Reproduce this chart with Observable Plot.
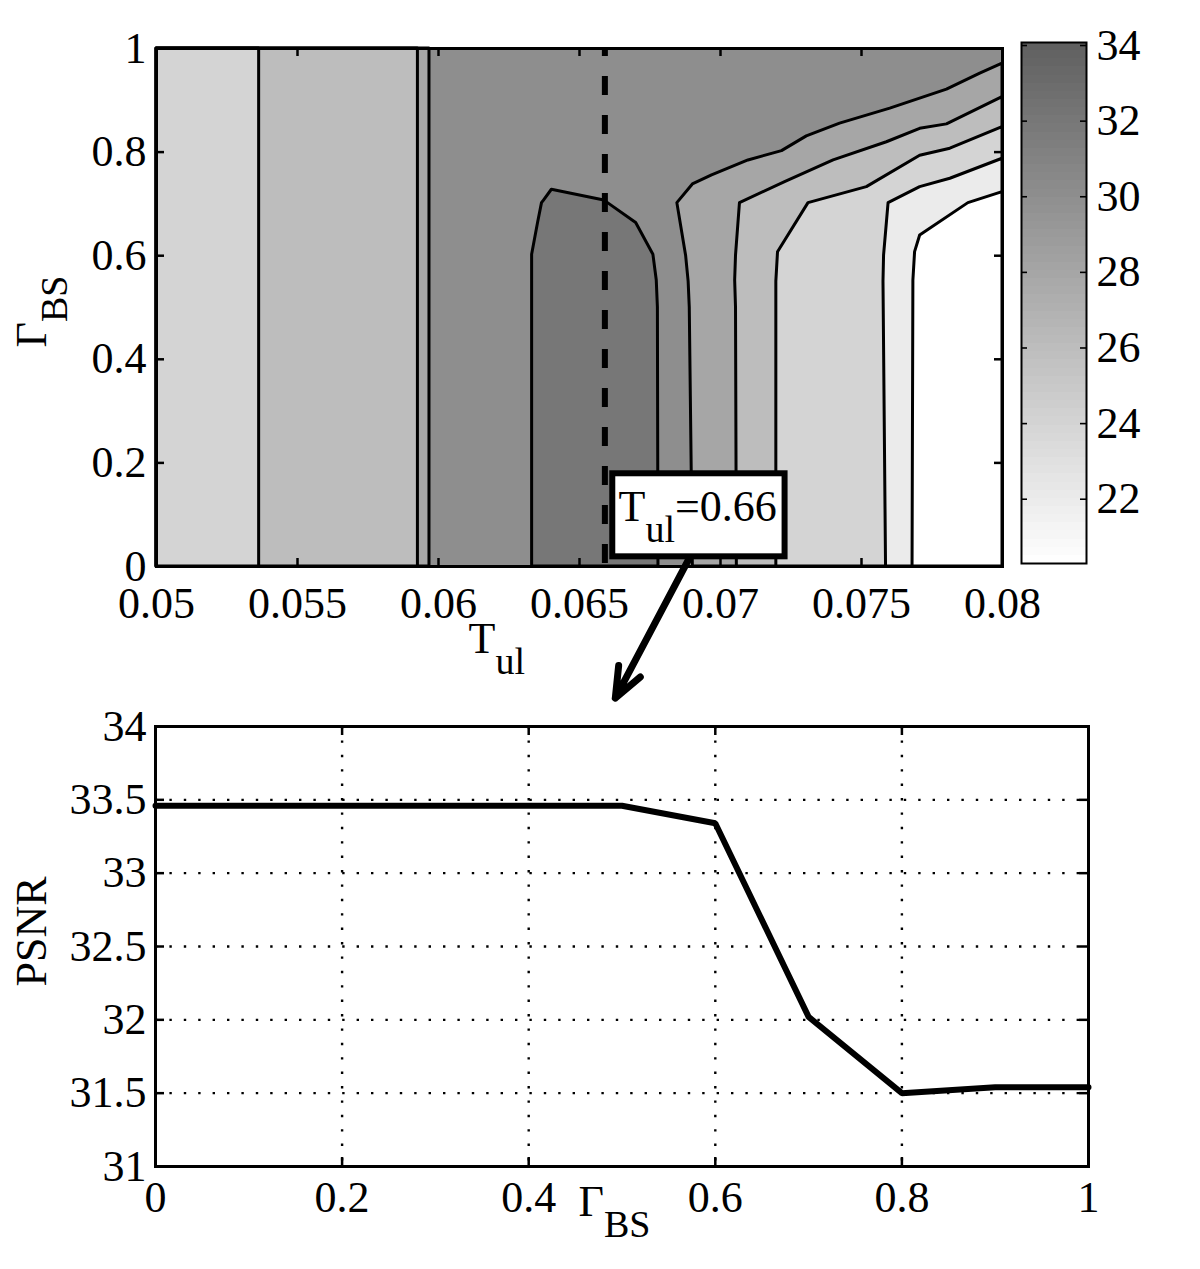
<!DOCTYPE html>
<html>
<head>
<meta charset="utf-8">
<script src="https://cdn.jsdelivr.net/npm/d3@7"></script>
<script src="https://cdn.jsdelivr.net/npm/@observablehq/plot@0.6"></script>
<style>
  body { margin: 0; background: #fff; }
  #fig { position: relative; width: 1200px; height: 1269px; }
  #fig svg text { font-family: 'Liberation Serif', 'Times New Roman', serif !important; font-variant: normal !important; }
</style>
</head>
<body>
<div id="fig"></div>
<script>
// ---------- DATA ----------
// top panel: PSNR contour map over T_ul (x) and Γ_BS (y)
const tulTicks = [0.05, 0.055, 0.06, 0.065, 0.07, 0.075, 0.08];
const gammaTicksTop = [0, 0.2, 0.4, 0.6, 0.8, 1];
const colorbarTicks = [22, 24, 26, 28, 30, 32, 34];
const psnrLimits = [20.3, 34.08];          // colour-bar limits (data min / max)
const tulDomain = [0.05, 0.08];
const gammaDomain = [0, 1];

const backgroundLevel = 30;                // 30–32 dB region fills the rest
// vertical contour lines on the left: region to the LEFT of x has that level
const leftLevels = [28, 26, 24];
const leftLineX = [0.05968, 0.05927, 0.05364];

// contour lines on the right [T_ul, Γ_BS]: region to the RIGHT has the level
const contour28 = [[0.06902,0],[0.06891,0.5],[0.06887,0.55],[0.06878,0.6],[0.06847,0.7015],[0.06902,0.7376],[0.06970,0.7549],[0.07099,0.7839],[0.07218,0.8019],[0.07306,0.8303],[0.07424,0.8549],[0.07602,0.8839],[0.07803,0.9206],[0.07921,0.9515],[0.08,0.9708]];
const contour26 = [[0.07058,0],[0.07055,0.5],[0.07052,0.552],[0.07055,0.6],[0.07069,0.7015],[0.07229,0.742],[0.07401,0.784],[0.07590,0.819],[0.07708,0.845],[0.07803,0.8535],[0.08,0.906]];
const contour24 = [[0.07198,0],[0.07198,0.55],[0.07204,0.6068],[0.07312,0.7015],[0.07519,0.7324],[0.07708,0.7929],[0.07815,0.8066],[0.08,0.8483]];
const contour22 = [[0.07587,0],[0.07578,0.55],[0.07580,0.6],[0.07596,0.7015],[0.07708,0.7324],[0.07815,0.7486],[0.08,0.7872]];
const contourLow = [[0.07681,0],[0.07684,0.552],[0.0769,0.6068],[0.07708,0.639],[0.07879,0.7015],[0.08,0.7227]];
const rightLevels = [28, 26, 24, 22, psnrLimits[0]];
const rightContours = [contour28, contour26, contour24, contour22, contourLow];

// closed 32 dB contour: [Γ_BS, left T_ul, right T_ul]
const peakLevel = 32;
const peakRows = [[0,0.06332,0.06780],[0.5,0.06332,0.06778],[0.552,0.06332,0.06774],[0.602,0.06332,0.06762],[0.663,0.06353,0.06701],[0.7015,0.06367,0.06601],[0.7065,0.06374,0.06588],[0.7273,0.06402,0.06402]];

const tulSelected = 0.0659;                 // dashed line
const annotationText = "T_{ul}=0.66";
const annotationBox = [{x1: 0.06618, x2: 0.07229, y1: 0.0187, y2: 0.179}];
const annotationArrow = [{x1: 0.06903, y1: 0.03, x2: 0.06627, y2: -0.254}];

// bottom panel: PSNR vs Γ_BS at T_ul = 0.066
const gammaBottom = [0, 0.1, 0.2, 0.3, 0.4, 0.5, 0.6, 0.7, 0.8, 0.9, 1];
const psnrBottom = [33.46, 33.46, 33.46, 33.46, 33.46, 33.46, 33.34, 32.02, 31.50, 31.54, 31.54];
const gammaTicksBottom = [0, 0.2, 0.4, 0.6, 0.8, 1];
const psnrTicksBottom = [31, 31.5, 32, 32.5, 33, 33.5, 34];

// ---------- STYLE ----------
const FONT = "'Liberation Serif', 'Times New Roman', serif";
const TICK_FS = 44;
const colorSpec = {type: "linear", domain: psnrLimits, range: ["#ffffff", "#5f5f5f"]};
const fmt = d => `${d}`;
const svgStyle = (left, top) => ({
  position: "absolute", left: `${left}px`, top: `${top}px`,
  background: "transparent", overflow: "visible",
  fontFamily: FONT, fontSize: "42px", color: "black", maxWidth: "none"
});

function subscripts(svg, fontPx, subPx, shift) {
  d3.select(svg).selectAll("text").each(function () {
    const m = /^(.*?)_\{(.*?)\}(.*)$/.exec(this.textContent);
    if (!m) return;
    this.textContent = "";
    const t = d3.select(this);
    t.append("tspan").attr("font-size", fontPx).text(m[1]);
    t.append("tspan").attr("dy", shift).attr("font-size", subPx).text(m[2]);
    if (m[3]) t.append("tspan").attr("dy", -shift).attr("font-size", fontPx).text(m[3]);
  });
}

// ---------- TOP PANEL ----------
const topW = 1200, topH = 700, topML = 156, topMR = 198, topMT = 48, topMB = 134;
const topInnerW = topW - topML - topMR, topInnerH = topH - topMT - topMB;
const tickLen = 8;
const lineStyle = {stroke: "black", strokeWidth: 3, strokeLinejoin: "round"};

const topPlot = Plot.plot({
  width: topW, height: topH,
  marginLeft: topML, marginRight: topMR, marginTop: topMT, marginBottom: topMB,
  style: svgStyle(0, 0),
  x: {domain: tulDomain},
  y: {domain: gammaDomain},
  color: colorSpec,
  marks: [
    Plot.rect([backgroundLevel], {x1: () => tulDomain[0], x2: () => tulDomain[1], y1: () => gammaDomain[0], y2: () => gammaDomain[1], fill: d => d}),
    ...leftLevels.map((lv, i) => Plot.areaX(gammaDomain, {
      y: d => d, x1: () => tulDomain[0], x2: () => leftLineX[i], fill: () => lv, ...lineStyle
    })),
    ...rightContours.map((c, i) => Plot.areaX(c, {
      y: d => d[1], x1: d => d[0], x2: () => tulDomain[1], fill: () => rightLevels[i], ...lineStyle
    })),
    Plot.areaX(peakRows, {y: d => d[0], x1: d => d[1], x2: d => d[2], fill: () => peakLevel, ...lineStyle}),
    Plot.frame({strokeWidth: 3}),
    Plot.ruleX([tulSelected], {strokeWidth: 6, strokeDasharray: "19,20", strokeDashoffset: 11}),
    Plot.arrow(annotationArrow, {x1: "x1", y1: "y1", x2: "x2", y2: "y2", strokeWidth: 7, headLength: 7, headAngle: 44}),
    Plot.rect(annotationBox, {x1: "x1", x2: "x2", y1: "y1", y2: "y2", fill: "white", stroke: "black", strokeWidth: 6}),
    Plot.text([annotationText], {frameAnchor: "bottom-left", dx: 462, dy: -46, textAnchor: "start", lineAnchor: "bottom", fontSize: 44}),
    // inward ticks on all four sides
    Plot.ruleX(tulTicks, {insetTop: topInnerH - tickLen, strokeWidth: 2.5}),
    Plot.ruleX(tulTicks, {insetBottom: topInnerH - tickLen, strokeWidth: 2.5}),
    Plot.ruleY(gammaTicksTop, {insetRight: topInnerW - tickLen, strokeWidth: 2.5}),
    Plot.ruleY(gammaTicksTop, {insetLeft: topInnerW - tickLen, strokeWidth: 2.5}),
    Plot.axisX(tulTicks, {tickSize: 0, tickPadding: 20, tickFormat: fmt, label: null, fontSize: TICK_FS, fontFamily: FONT}),
    Plot.axisY(gammaTicksTop, {tickSize: 0, tickPadding: 10, tickFormat: fmt, label: null, fontSize: TICK_FS, fontFamily: FONT}),
    Plot.text(["T_{ul}"], {frameAnchor: "bottom-left", dx: 312, dy: 86, textAnchor: "start", lineAnchor: "bottom", fontSize: 44}),
    Plot.text(["Γ_{BS}"], {frameAnchor: "left", dx: -111, dy: 40, rotate: -90, textAnchor: "start", lineAnchor: "bottom", fontSize: 44})
  ]
});

// ---------- COLOUR BAR ----------
const cbN = 64;
const cbStep = (psnrLimits[1] - psnrLimits[0]) / cbN;
const cbSteps = d3.range(cbN).map(i => psnrLimits[0] + i * cbStep);
const cbW = 200, cbH = 600, cbML = 21, cbMR = 114, cbMT = 42, cbMB = 37;
const cbInnerW = cbW - cbML - cbMR;
const colorbar = Plot.plot({
  width: cbW, height: cbH,
  marginLeft: cbML, marginRight: cbMR, marginTop: cbMT, marginBottom: cbMB,
  style: svgStyle(1000, 0),
  x: {domain: [0, 1], axis: null},
  y: {domain: psnrLimits, axis: null},
  color: colorSpec,
  marks: [
    Plot.rect(cbSteps, {x1: () => 0, x2: () => 1, y1: d => d, y2: d => d + cbStep * 1.05, fill: d => d + cbStep / 2, shapeRendering: "crispEdges"}),
    Plot.frame({strokeWidth: 2}),
    Plot.ruleY(colorbarTicks, {insetRight: cbInnerW - 6, strokeWidth: 1.6}),
    Plot.ruleY(colorbarTicks, {insetLeft: cbInnerW - 6, strokeWidth: 1.6}),
    Plot.axisY(colorbarTicks, {anchor: "right", tickSize: 0, tickPadding: 10, tickFormat: fmt, label: null, fontSize: TICK_FS, fontFamily: FONT})
  ]
});

// ---------- BOTTOM PANEL ----------
const botW = 1200, botH = 569, botML = 155, botMR = 112, botMT = 26, botMB = 103;
const botInnerW = botW - botML - botMR, botInnerH = botH - botMT - botMB;
const botTick = 9;
const gridStyle = {stroke: "black", strokeOpacity: 1, strokeWidth: 2.4, strokeDasharray: "2.4,12"};
const bottomData = gammaBottom.map((g, i) => ({gamma: g, psnr: psnrBottom[i]}));
const bottomPlot = Plot.plot({
  width: botW, height: botH,
  marginLeft: botML, marginRight: botMR, marginTop: botMT, marginBottom: botMB,
  style: svgStyle(0, 700),
  x: {domain: [0, 1]},
  y: {domain: [31, 34]},
  marks: [
    Plot.ruleX(gammaTicksBottom, gridStyle),
    Plot.ruleY(psnrTicksBottom, gridStyle),
    Plot.line(bottomData, {x: "gamma", y: "psnr", stroke: "black", strokeWidth: 6, strokeLinejoin: "miter"}),
    Plot.frame({strokeWidth: 3}),
    Plot.ruleX(gammaTicksBottom, {insetTop: botInnerH - botTick, strokeWidth: 2.5}),
    Plot.ruleX(gammaTicksBottom, {insetBottom: botInnerH - botTick, strokeWidth: 2.5}),
    Plot.ruleY(psnrTicksBottom, {insetRight: botInnerW - botTick, strokeWidth: 2.5}),
    Plot.ruleY(psnrTicksBottom, {insetLeft: botInnerW - botTick, strokeWidth: 2.5}),
    Plot.axisX(gammaTicksBottom, {tickSize: 0, tickPadding: 14, tickFormat: fmt, label: null, fontSize: TICK_FS, fontFamily: FONT}),
    Plot.axisY(psnrTicksBottom, {tickSize: 0, tickPadding: 9, tickFormat: fmt, label: null, fontSize: TICK_FS, fontFamily: FONT}),
    Plot.text(["Γ_{BS}"], {frameAnchor: "bottom-left", dx: 423, dy: 49, textAnchor: "start", lineAnchor: "bottom", fontSize: 44}),
    Plot.text(["PSNR"], {frameAnchor: "left", dx: -110, dy: -15, rotate: -90, textAnchor: "middle", lineAnchor: "bottom", fontSize: 44})
  ]
});

const fig = document.getElementById("fig");
fig.append(bottomPlot, topPlot, colorbar);
for (const s of [topPlot, bottomPlot]) subscripts(s, 44, 38, 21);
</script>
</body>
</html>
